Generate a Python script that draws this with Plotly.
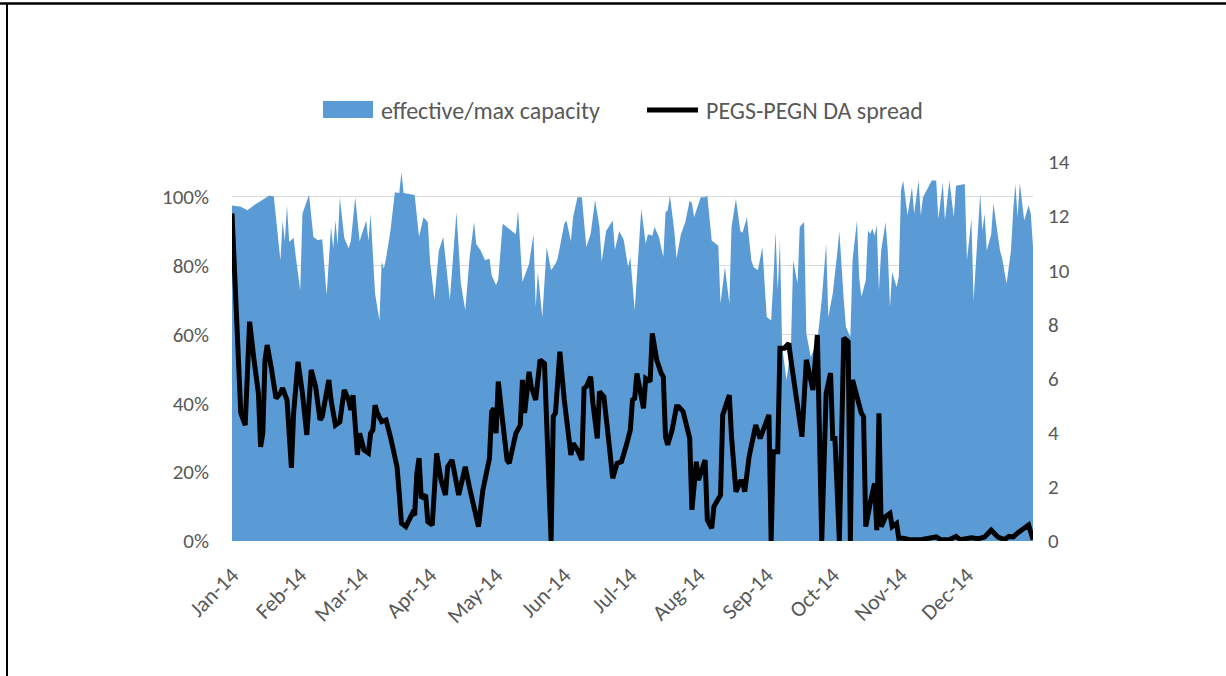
import pandas as pd
import plotly.graph_objects as go

# ---- data ----
series_names = ["effective/max capacity", "PEGS-PEGN DA spread"]
year_start = "2014-01-01"

cap_day = [0,4,7,11,17,19,22,23,24,25,26,28,29,31,32,35,37,39,41,43,45,46,47,48,49,51,53,54,56,58,61,62,63,64,65,67,68,69,70,72,74,76,77,78,83,85,87,89,90,92,
           94,96,97,99,102,104,106,108,110,111,113,115,117,118,120,121,123,125,127,129,130,132,135,137,138,139,141,143,145,147,148,151,152,154,155,157,159,161,163,165,167,168,170,173,174,176,178,180,181,183,
           186,188,189,191,192,194,196,197,198,199,201,202,204,206,208,209,210,213,215,216,218,221,222,224,226,227,229,231,232,234,236,237,239,241,243,245,246,247,248,249,250,252,254,255,257,258,260,261,263,266,268,270,271,273,275,276,278,279,
           281,282,284,285,286,288,289,290,291,292,293,294,295,297,298,299,300,302,303,304,305,307,309,310,312,313,314,316,318,320,321,323,324,326,328,329,333,334,336,337,339,340,341,342,343,345,346,348,349,350,352,354,355,356,357,358,360,362,363,364]
cap_val = [0.974,0.97,0.96,0.979,1.003,1.0,0.814,0.93,0.87,0.974,0.868,0.88,0.824,0.728,0.95,1.005,0.882,0.873,0.876,0.713,0.911,0.85,0.93,0.86,0.998,0.88,0.85,0.87,0.998,0.87,0.93,0.87,0.95,0.81,0.718,0.64,0.81,0.79,0.82,0.90,1.012,1.01,1.07,1.01,1.004,0.882,0.94,0.925,0.81,0.70,
           0.843,0.882,0.824,0.70,0.955,0.747,0.67,0.824,0.926,0.862,0.843,0.815,0.82,0.771,0.742,0.76,0.921,0.911,0.90,0.89,0.959,0.752,0.805,0.891,0.679,0.781,0.65,0.853,0.786,0.805,0.82,0.921,0.93,0.87,0.94,0.998,0.998,0.853,0.892,0.99,0.911,0.81,0.90,0.93,0.845,0.90,0.874,0.795,0.824,0.67,
           0.965,0.863,0.89,0.886,0.911,0.882,0.824,0.955,0.959,1.003,0.90,0.82,0.89,0.926,0.988,0.98,0.94,0.998,0.998,1.003,0.872,0.857,0.689,0.795,0.689,0.911,0.993,0.90,0.895,0.94,0.815,0.795,0.786,0.853,0.65,0.64,0.757,0.897,0.728,0.87,0.563,0.467,0.563,0.815,0.747,0.911,0.926,0.602,0.534,0.58,0.70,0.863,0.65,0.718,0.834,0.90,0.70,0.621,
           0.592,0.815,0.93,0.766,0.708,0.757,0.901,0.892,0.906,0.886,0.916,0.728,0.843,0.925,0.843,0.679,0.78,0.737,0.766,1.017,1.046,0.945,1.027,0.95,1.046,0.945,0.998,1.022,1.046,1.046,0.935,1.04,0.93,1.046,0.94,1.031,1.036,0.815,0.935,0.698,0.911,1.008,0.901,0.95,0.843,0.89,0.98,0.882,0.843,0.82,0.747,0.843,0.96,1.036,0.94,1.04,0.93,0.974,0.95,0.854]

spread_day = [0,2,4,6,8,10,12,13,14,15,16,18,20,22,23,25,27,28,30,32,34,36,38,40,41,44,45,47,49,51,53,54,55,57,58,60,62,63,64,65,66,68,70,72,75,76,77,79,82,83,84,85,86,88,89,91,
              93,95,97,98,100,103,106,108,110,112,114,117,118,119,120,121,123,125,126,129,131,132,133,135,136,138,140,142,145,146,147,149,151,154,155,157,159,160,161,163,164,166,167,169,171,173,175,177,179,181,182,183,184,186,187,
              188,190,191,193,195,196,197,198,200,202,203,205,208,209,211,212,215,216,218,219,222,223,226,227,229,231,232,233,235,238,240,242,244,245,246,248,249,251,253,254,257,259,261,263,264,266,268,270,272,273,274,276,278,280,281,282,
              284,286,287,288,290,292,293,294,295,297,299,300,302,303,305,308,313,320,322,326,329,331,336,339,342,345,348,351,353,355,357,360,362,364]
spread_val = [12.1,7.92,4.73,4.28,8.1,6.69,5.46,3.48,3.98,6.69,7.24,6.32,5.27,5.46,5.65,5.21,2.7,4.73,6.62,5.46,3.92,6.32,5.7,4.47,4.6,5.95,5.21,4.28,4.4,5.58,5.21,4.84,5.39,3.18,3.98,3.36,3.25,3.98,4.1,5.02,4.73,4.41,4.47,3.85,2.74,1.76,0.66,0.53,1.03,0.96,2.5,3.06,1.58,1.7,0.71,0.59,
              3.24,2.25,1.7,2.74,2.99,1.7,2.74,1.95,1.15,0.53,1.88,3.05,4.78,4.9,3.98,5.89,4.41,2.99,2.87,3.98,4.28,5.95,4.73,6.25,5.7,5.21,6.69,6.56,0.0,4.6,4.73,6.99,5.21,3.18,3.61,3.36,2.99,5.64,5.7,6.07,5.09,3.79,5.52,5.33,3.85,2.32,2.87,2.93,3.48,4.1,5.21,5.27,6.19,5.46,4.9,
              6.0,5.89,7.67,6.69,6.2,6.07,3.85,3.55,4.1,4.96,4.96,4.78,3.79,1.15,2.93,2.25,2.99,0.78,0.47,1.27,1.7,4.66,5.39,3.85,1.82,2.2,2.2,1.82,3.12,4.28,3.79,4.22,4.66,0.0,3.3,3.3,7.12,7.12,7.3,6.69,5.09,3.85,6.69,5.95,5.58,7.61,0.0,5.46,6.2,3.79,3.79,0.0,7.5,7.36,0.0,5.95,
              5.33,4.72,4.6,0.53,1.39,2.13,0.4,4.72,0.53,0.9,1.02,0.53,0.65,0.1,0.1,0.05,0.05,0.15,0.05,0.05,0.17,0.05,0.12,0.08,0.15,0.4,0.15,0.05,0.17,0.15,0.3,0.47,0.59,0.05]

left_ticks = [0, 0.2, 0.4, 0.6, 0.8, 1.0]
right_ticks = [0, 2, 4, 6, 8, 10, 12, 14]

# ---- styling ----
BLUE = "#5B9BD5"
GREY_TXT = "#595959"
GRID = "#D9D9D9"
FONT = "Carlito, Calibri, Lato, sans-serif"

start = pd.Timestamp(year_start)
cap_dates = [start + pd.Timedelta(days=d) for d in cap_day]
spread_dates = [start + pd.Timedelta(days=d) for d in spread_day]

fig = go.Figure()
fig.add_trace(go.Scatter(x=cap_dates, y=cap_val, name=series_names[0], mode="lines",
                         fill="tozeroy", fillcolor=BLUE, line=dict(width=0, color=BLUE),
                         showlegend=False, yaxis="y"))
fig.add_trace(go.Scatter(x=spread_dates, y=spread_val, name=series_names[1], mode="lines",
                         line=dict(width=5, color="black"), showlegend=False, yaxis="y2"))

W, H = 1226, 676
L, R, T, B = 232, 1033, 162, 541
def px(x):
    return (x - L) / (R - L)
def py(y):
    return (B - y) / (B - T)

fig.update_layout(
    width=W, height=H,
    margin=dict(l=L, r=W - R, t=T, b=H - B),
    paper_bgcolor="white", plot_bgcolor="white",
    font=dict(family=FONT, color=GREY_TXT, size=21),
    xaxis=dict(type="date", range=["2014-01-01", "2014-12-31"], tick0="2014-01-01", dtick="M1",
               tickformat="%b-%y", tickangle=-45, showgrid=False, zeroline=False,
               showline=False, ticks="", tickfont=dict(size=22, color=GREY_TXT),
               ticklabelstandoff=16),
    yaxis=dict(range=[0, 1.1], tickvals=left_ticks, tickformat=".0%", showgrid=True,
               gridcolor=GRID, gridwidth=1, zeroline=False, showline=False, ticks="",
               tickfont=dict(size=21, color=GREY_TXT), ticklabelstandoff=22),
    yaxis2=dict(range=[0, 14], tickvals=right_ticks, overlaying="y", side="right",
                showgrid=False, zeroline=False, showline=False, ticks="",
                tickfont=dict(size=21, color=GREY_TXT), ticklabelstandoff=14),
)

# frame lines of the cropped document
shapes = [
    dict(type="line", xref="paper", yref="paper", x0=px(0), x1=px(W), y0=py(3.5), y1=py(3.5),
         line=dict(color="black", width=2.5)),
    dict(type="line", xref="paper", yref="paper", x0=px(7), x1=px(7), y0=py(3), y1=py(H),
         line=dict(color="black", width=2)),
    # legend keys
    dict(type="rect", xref="paper", yref="paper", x0=px(323), x1=px(373), y0=py(118), y1=py(101),
         fillcolor=BLUE, line=dict(width=0)),
    dict(type="line", xref="paper", yref="paper", x0=px(647), x1=px(698), y0=py(110), y1=py(110),
         line=dict(color="black", width=5)),
]
annotations = [
    dict(text=series_names[0], xref="paper", yref="paper", x=px(379), y=py(110),
         xanchor="left", yanchor="middle", showarrow=False, font=dict(size=24, color=GREY_TXT)),
    dict(text=series_names[1], xref="paper", yref="paper", x=px(704), y=py(110),
         xanchor="left", yanchor="middle", showarrow=False, font=dict(size=24, color=GREY_TXT)),
]
fig.update_layout(shapes=shapes, annotations=annotations)

fig.write_html("out.html", config={"displayModeBar": False},
               post_script="document.body.style.margin='0';")
